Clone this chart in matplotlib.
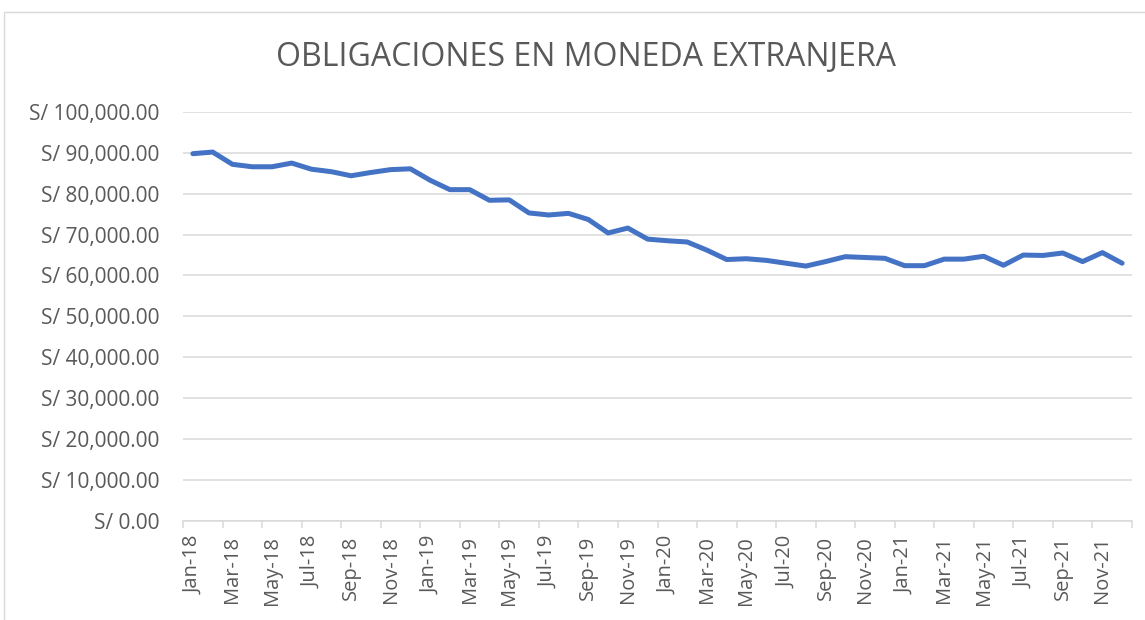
import numpy as np
import matplotlib
matplotlib.use("Agg")
import matplotlib.pyplot as plt
from matplotlib.patches import Rectangle
from matplotlib.ticker import FuncFormatter, FixedLocator

# monthly values, Jan-18 .. Dec-21
months = ["Jan-18", "Feb-18", "Mar-18", "Apr-18", "May-18", "Jun-18", "Jul-18", "Aug-18",
          "Sep-18", "Oct-18", "Nov-18", "Dec-18",
          "Jan-19", "Feb-19", "Mar-19", "Apr-19", "May-19", "Jun-19", "Jul-19", "Aug-19",
          "Sep-19", "Oct-19", "Nov-19", "Dec-19",
          "Jan-20", "Feb-20", "Mar-20", "Apr-20", "May-20", "Jun-20", "Jul-20", "Aug-20",
          "Sep-20", "Oct-20", "Nov-20", "Dec-20",
          "Jan-21", "Feb-21", "Mar-21", "Apr-21", "May-21", "Jun-21", "Jul-21", "Aug-21",
          "Sep-21", "Oct-21", "Nov-21", "Dec-21"]
obligaciones = [89800, 90200, 87200, 86600, 86600, 87500, 86000, 85400, 84400, 85200, 85900, 86100,
                83300, 81000, 81000, 78400, 78500, 75300, 74800, 75200, 73700, 70400, 71600, 68900,
                68500, 68200, 66200, 63900, 64100, 63700, 63000, 62300, 63400, 64600, 64400, 64200,
                62400, 62400, 64000, 64000, 64700, 62500, 65000, 64900, 65500, 63400, 65600, 63000]
y_ticks = [0, 10000, 20000, 30000, 40000, 50000, 60000, 70000, 80000, 90000, 100000]
title = "OBLIGACIONES EN MONEDA EXTRANJERA"

plt.rcParams['font.family'] = ['Open Sans', 'DejaVu Sans']
text_col = '#595959'
grid_col = '#D9D9D9'

W, H = 1145, 620
fig = plt.figure(figsize=(W / 100, H / 100), dpi=100)

# chart border
fig.patches.append(Rectangle((4 / W, -0.1), 1.2, (H - 12) / H + 0.1, transform=fig.transFigure,
                             fill=False, edgecolor=grid_col, linewidth=1.0))

ax = fig.add_axes([183 / W, (H - 520.7) / H, (1132 - 183) / W, (520.7 - 112) / H])

x = np.arange(len(obligaciones))
ax.plot(x, obligaciones, color='#4472C4', linewidth=3.6, solid_joinstyle='round',
        solid_capstyle='round', zorder=3)

ax.set_xlim(-0.5, len(obligaciones) - 0.5)
ax.set_ylim(0, 100000)

ax.set_yticks(y_ticks)
ax.yaxis.set_major_formatter(FuncFormatter(lambda v, p: f"S/ {v:,.2f}"))
ax.grid(axis='y', color=grid_col, linewidth=1.1, zorder=0)
ax.tick_params(axis='y', length=0, pad=17, labelsize=15, labelcolor=text_col)

# tick marks between categories, labels on every second month
ax.xaxis.set_major_locator(FixedLocator(np.arange(-0.5, len(obligaciones), 2)))
ax.xaxis.set_major_formatter(FuncFormatter(lambda v, p: ""))
ax.xaxis.set_minor_locator(FixedLocator(x[::2]))
ax.set_xticklabels(months[::2], minor=True, rotation=90)
ax.tick_params(axis='x', which='major', length=5, width=1.1, color=grid_col, direction='out')
ax.tick_params(axis='x', which='minor', length=0, pad=11, labelsize=14.5, labelcolor=text_col)

for s in ['top', 'right', 'left']:
    ax.spines[s].set_visible(False)
ax.spines['bottom'].set_color(grid_col)
ax.spines['bottom'].set_linewidth(1.1)

fig.text(586 / W, 1 - 57 / H, title, ha='center', va='center', fontsize=23, color=text_col)

fig.savefig("out.png", dpi=100)
